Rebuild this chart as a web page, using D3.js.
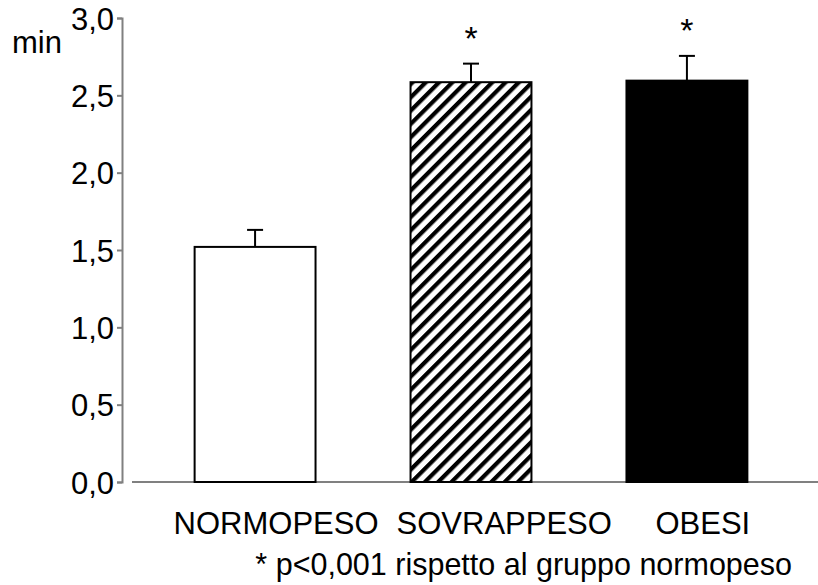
<!DOCTYPE html>
<html>
<head>
<meta charset="utf-8">
<script src="https://cdn.jsdelivr.net/npm/d3@7"></script>
<style>
  body { margin: 0; background: #fff; }
  svg text { font-family: "Liberation Sans", Arial, sans-serif; fill: #000; }
</style>
</head>
<body>
<svg id="chart"></svg>
<script>
// data
var groups = ["NORMOPESO", "SOVRAPPESO", "OBESI"];
var means = [1.52, 2.585, 2.595];
var errors = [0.11, 0.12, 0.16];
var starred = [false, true, true];
var yTicks = [0, 0.5, 1.0, 1.5, 2.0, 2.5, 3.0];
var footnote = "* p<0,001 rispetto al gruppo normopeso";

var width = 818, height = 585;
var svg = d3.select("#chart").attr("width", width).attr("height", height);

//----------------
// SCALES
//----------------
var y = d3.scaleLinear().domain([0, 3]).range([482, 18]);
var x = d3.scaleBand().domain(groups).range([132, 810])
    .paddingInner(0.44).paddingOuter(0.29);

// hatch pattern
var defs = svg.append("defs");
defs.append("pattern")
    .attr("id", "hatch")
    .attr("patternUnits", "userSpaceOnUse")
    .attr("width", 9.4).attr("height", 9.4)
    .attr("patternTransform", "rotate(45)")
  .append("rect")
    .attr("x", 0).attr("y", 0)
    .attr("width", 4.2).attr("height", 9.4)
    .attr("fill", "#000");

var fills = ["#fff", "url(#hatch)", "#000"];

//----------------
// AXES
//----------------
var yAxis = svg.append("g")
    .attr("transform", "translate(122,0)")
    .call(d3.axisLeft(y).tickValues(yTicks).tickSize(5).tickPadding(3)
        .tickFormat(function (d) { return d3.format(".1f")(d).replace(".", ","); }));
yAxis.select(".domain").attr("stroke", "#808080").attr("stroke-width", 2);
yAxis.selectAll(".tick line").attr("stroke", "#808080").attr("stroke-width", 2);
yAxis.selectAll(".tick text")
    .attr("font-size", 31)
    .attr("font-family", "Liberation Sans, Arial, sans-serif")
    .attr("dy", "0.36em");

svg.append("line")
    .attr("x1", 132).attr("x2", width)
    .attr("y1", y(0)).attr("y2", y(0))
    .attr("stroke", "#808080").attr("stroke-width", 2);

svg.append("text")
    .attr("x", 12).attr("y", 53)
    .attr("font-size", 31)
    .text("min");

//----------------
// BARS
//----------------
var bars = svg.selectAll("g.bar").data(groups).enter()
    .append("g").attr("class", "bar");

bars.append("rect")
    .attr("x", function (d) { return x(d); })
    .attr("y", function (d, i) { return y(means[i]); })
    .attr("width", x.bandwidth())
    .attr("height", function (d, i) { return y(0) - y(means[i]); })
    .attr("fill", function (d, i) { return fills[i]; })
    .attr("stroke", "#000")
    .attr("stroke-width", 2);

// error bars
bars.append("line")
    .attr("x1", function (d) { return x(d) + x.bandwidth() / 2; })
    .attr("x2", function (d) { return x(d) + x.bandwidth() / 2; })
    .attr("y1", function (d, i) { return y(means[i]); })
    .attr("y2", function (d, i) { return y(means[i] + errors[i]); })
    .attr("stroke", "#000").attr("stroke-width", 2);

bars.append("line")
    .attr("x1", function (d) { return x(d) + x.bandwidth() / 2 - 8; })
    .attr("x2", function (d) { return x(d) + x.bandwidth() / 2 + 8; })
    .attr("y1", function (d, i) { return y(means[i] + errors[i]); })
    .attr("y2", function (d, i) { return y(means[i] + errors[i]); })
    .attr("stroke", "#000").attr("stroke-width", 2);

// asterisks
bars.filter(function (d, i) { return starred[i]; })
    .append("text")
    .attr("x", function (d) { return x(d) + x.bandwidth() / 2; })
    .attr("y", function (d) { var i = groups.indexOf(d); return y(means[i] + errors[i]) - 14; })
    .attr("text-anchor", "middle")
    .attr("font-size", 34)
    .text("*");

//----------------
// LABELS
//----------------
var labelShift = [-21, -14, 29];
svg.selectAll("text.cat").data(groups).enter()
    .append("text")
    .attr("class", "cat")
    .attr("x", function (d, i) { return x(d) + labelShift[i]; })
    .attr("y", 534)
    .attr("font-size", 31)
    .text(function (d) { return d; });

svg.append("text")
    .attr("x", 792).attr("y", 575)
    .attr("text-anchor", "end")
    .attr("font-size", 30.5)
    .text(footnote);
</script>
</body>
</html>
